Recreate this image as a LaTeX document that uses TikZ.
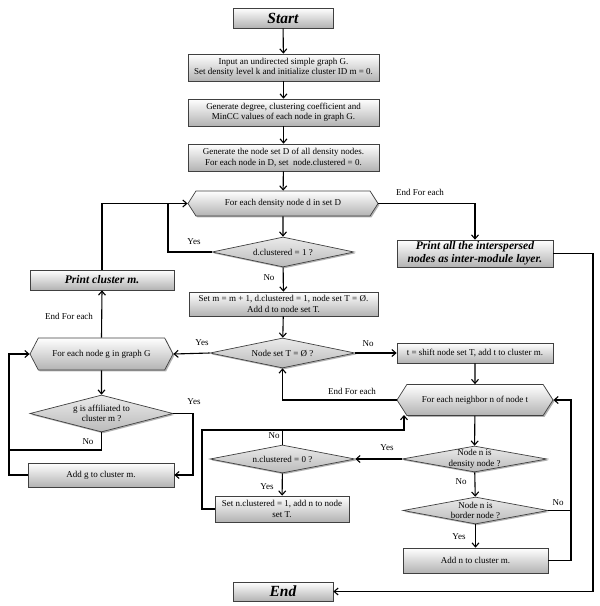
\documentclass[tikz,border=0pt]{standalone}
\usepackage{fontspec}
\setmainfont{Liberation Serif}
\usetikzlibrary{arrows.meta,shapes.geometric,shapes.symbols,shadows,calc}
\begin{document}
\begin{tikzpicture}[x=1pt,y=-1pt,
  base/.style={draw=black!75, line width=0.7pt, top color=white, bottom color=black!30,
    drop shadow={shadow xshift=1.4pt, shadow yshift=-1.4pt, fill=black!60, opacity=0.5},
    font=\fontsize{9}{10.5}\selectfont, align=center, inner sep=0pt, text=black},
  box/.style={base, rectangle},
  bigbox/.style={base, rectangle, font=\fontsize{15.5}{17}\selectfont\bfseries\itshape},
  midbox/.style={base, rectangle, font=\fontsize{11.6}{13}\selectfont\bfseries\itshape},
  hex/.style={base, signal, signal to=west and east, signal pointer angle=115},
  dia/.style={base, diamond, aspect=4, inner sep=0pt, top color=black!8, bottom color=black!27},
  dtext/.style={font=\fontsize{9}{10.5}\selectfont, align=center, inner sep=0pt},
  conn/.style={line width=1.1pt, draw=black},
  arr/.style={conn, -{Straight Barb[length=4pt,width=7pt,line width=1.1pt]}},
  lbl/.style={font=\fontsize{9}{10.5}\selectfont, inner sep=0pt}
]
\useasboundingbox (0,0) rectangle (600,606);

% nodes
\node[bigbox, minimum width=100pt, minimum height=20pt] (start) at (283,18) {Start};
\node[box, minimum width=191pt, minimum height=27pt] (inp) at (283.5,67.5) {Input an undirected simple graph G.\\Set density level k and initialize cluster ID m = 0.};
\node[box, minimum width=191pt, minimum height=27pt] (gen) at (283.5,112.5) {Generate degree, clustering coefficient and\\MinCC values of each node in graph G.};
\node[box, minimum width=191pt, minimum height=27pt] (genD) at (283.5,157.5) {Generate the node set D of all density nodes.\\For each node in D, set\ \ node.clustered = 0.};
\node[hex, minimum width=190pt, minimum height=25pt] (forD) at (283,203.5) {For each density node d in set D};
\node[dia, minimum width=142pt, minimum height=30pt] (dcl) at (283,252) {};
\node[dtext] (dclT) at (dcl) {d.clustered = 1 ?};
\node[box, minimum width=189pt, minimum height=24pt] (setm) at (283.5,304) {Set m = m + 1, d.clustered = 1, node set T = \O.\\Add d to node set T.};
\node[dia, minimum width=145pt, minimum height=30pt] (Temp) at (282.5,353) {};
\node[dtext] (TempT) at (Temp) {Node set T = \O\ ?};
\node[midbox, minimum width=156pt, minimum height=27pt] (pall) at (475,253.5) {Print all the interspersed\\nodes as inter-module layer.};
\node[midbox, minimum width=144pt, minimum height=20pt] (pcl) at (102,280) {Print cluster m.};
\node[hex, minimum width=143pt, minimum height=32pt, signal pointer angle=125] (forG) at (101.5,354) {For each node g in graph G};
\node[dia, minimum width=143pt, minimum height=37pt] (gaff) at (101.5,413.5) {};
\node[dtext] (gaffT) at (gaff) {g is affiliated to\\cluster m ?};
\node[box, minimum width=146pt, minimum height=24pt] (addg) at (101,475) {Add g to cluster m.};
\node[box, minimum width=156pt, minimum height=20pt] (tsh) at (475,353) {t = shift node set T, add t to cluster m.};
\node[hex, minimum width=156pt, minimum height=31pt] (forN) at (475,400) {For each neighbor n of node t};
\node[dia, minimum width=145pt, minimum height=26pt] (dens) at (474.5,459) {};
\node[dtext] (densT) at (dens) {Node n is\\density node ?};
\node[dia, minimum width=145pt, minimum height=28pt] (ncl) at (282.5,459) {};
\node[dtext] (nclT) at (ncl) {n.clustered = 0 ?};
\node[box, minimum width=134pt, minimum height=26pt] (setn) at (282,509) {Set n.clustered = 1, add n to node\\set T.};
\node[dia, minimum width=145pt, minimum height=27pt] (bord) at (475.5,510.5) {};
\node[dtext] (bordT) at (bord) {Node n is\\border node ?};
\node[box, minimum width=145pt, minimum height=25pt] (addn) at (475.5,560.5) {Add n to cluster m.};
\node[bigbox, minimum width=100pt, minimum height=19pt] (end) at (283,591.5) {End};

% helper coordinates
\coordinate (ja) at (168,203.5);
\coordinate (jb) at (475,203.5);
\coordinate (jc) at (593,253.5);
\coordinate (jd) at (571,400);
\coordinate (je) at (404,415);
\coordinate (jf) at (202,430);
\coordinate (jg) at (9,354);
\coordinate (jh) at (193,413.5);

% connectors
\draw[arr] (start) -- (inp);
\draw[arr] (inp) -- (gen);
\draw[arr] (gen) -- (genD);
\draw[arr] (genD) -- (forD);
\draw[arr] (forD) -- (dcl);
\draw[arr] (forD.east) -- (jb) -- (pall.north);
\draw[conn] (dcl.west) -| (ja);
\draw[arr] (pcl.north) |- (forD.west);
\draw[arr] (dcl) -- (setm);
\draw[arr] (setm) -- (Temp);
\draw[arr] (Temp.west) -- (forG.east);
\draw[arr] (Temp.east) -- (tsh.west);
\draw[arr] (tsh) -- (forN);
\draw[arr] (forN.west) -| (Temp.south);
\draw[arr] (forN) -- (dens);
\draw[arr] (dens.west) -- (ncl.east);
\draw[arr] (ncl) -- (setn);
\draw[conn] (ncl.north) -- (ncl.north |- jf);
\draw[arr] (setn.west) -| (jf) -| (je);
\draw[arr] (dens) -- (bord);
\draw[arr] (bord) -- (addn);
\draw[arr] (bord.east) -| (jd) -- (forN.east);
\draw[conn] (addn.east) -| (jd);
\draw[arr] (pall.east) -| (jc) |- (end.east);
\draw[arr] (forG) -- (gaff);
\draw[arr] (gaff.east) -| (jh) |- (addg.east);
\draw[arr] (gaff.south) -- (101.5,450) -| (jg) -- (forG.west);
\draw[conn] (addg.west) -| (jg);
\draw[arr] (forG.north) -- (pcl.south);

% labels
\node[lbl] (l1) at (420,192) {End For each};
\node[lbl] (l2) at (194,242) {Yes};
\node[lbl] (l3) at (269,278) {No};
\node[lbl] (l4) at (69,316) {End For each};
\node[lbl] (l5) at (202,343) {Yes};
\node[lbl] (l6) at (368,344) {No};
\node[lbl] (l7) at (352,391) {End For each};
\node[lbl] (l8) at (274,436) {No};
\node[lbl] (l9) at (387,448) {Yes};
\node[lbl] (l10) at (267,487) {Yes};
\node[lbl] (l11) at (461,482) {No};
\node[lbl] (l12) at (459,537) {Yes};
\node[lbl] (l13) at (558,503) {No};
\node[lbl] (l14) at (194,402) {Yes};
\node[lbl] (l15) at (88,442) {No};
\end{tikzpicture}
\end{document}
